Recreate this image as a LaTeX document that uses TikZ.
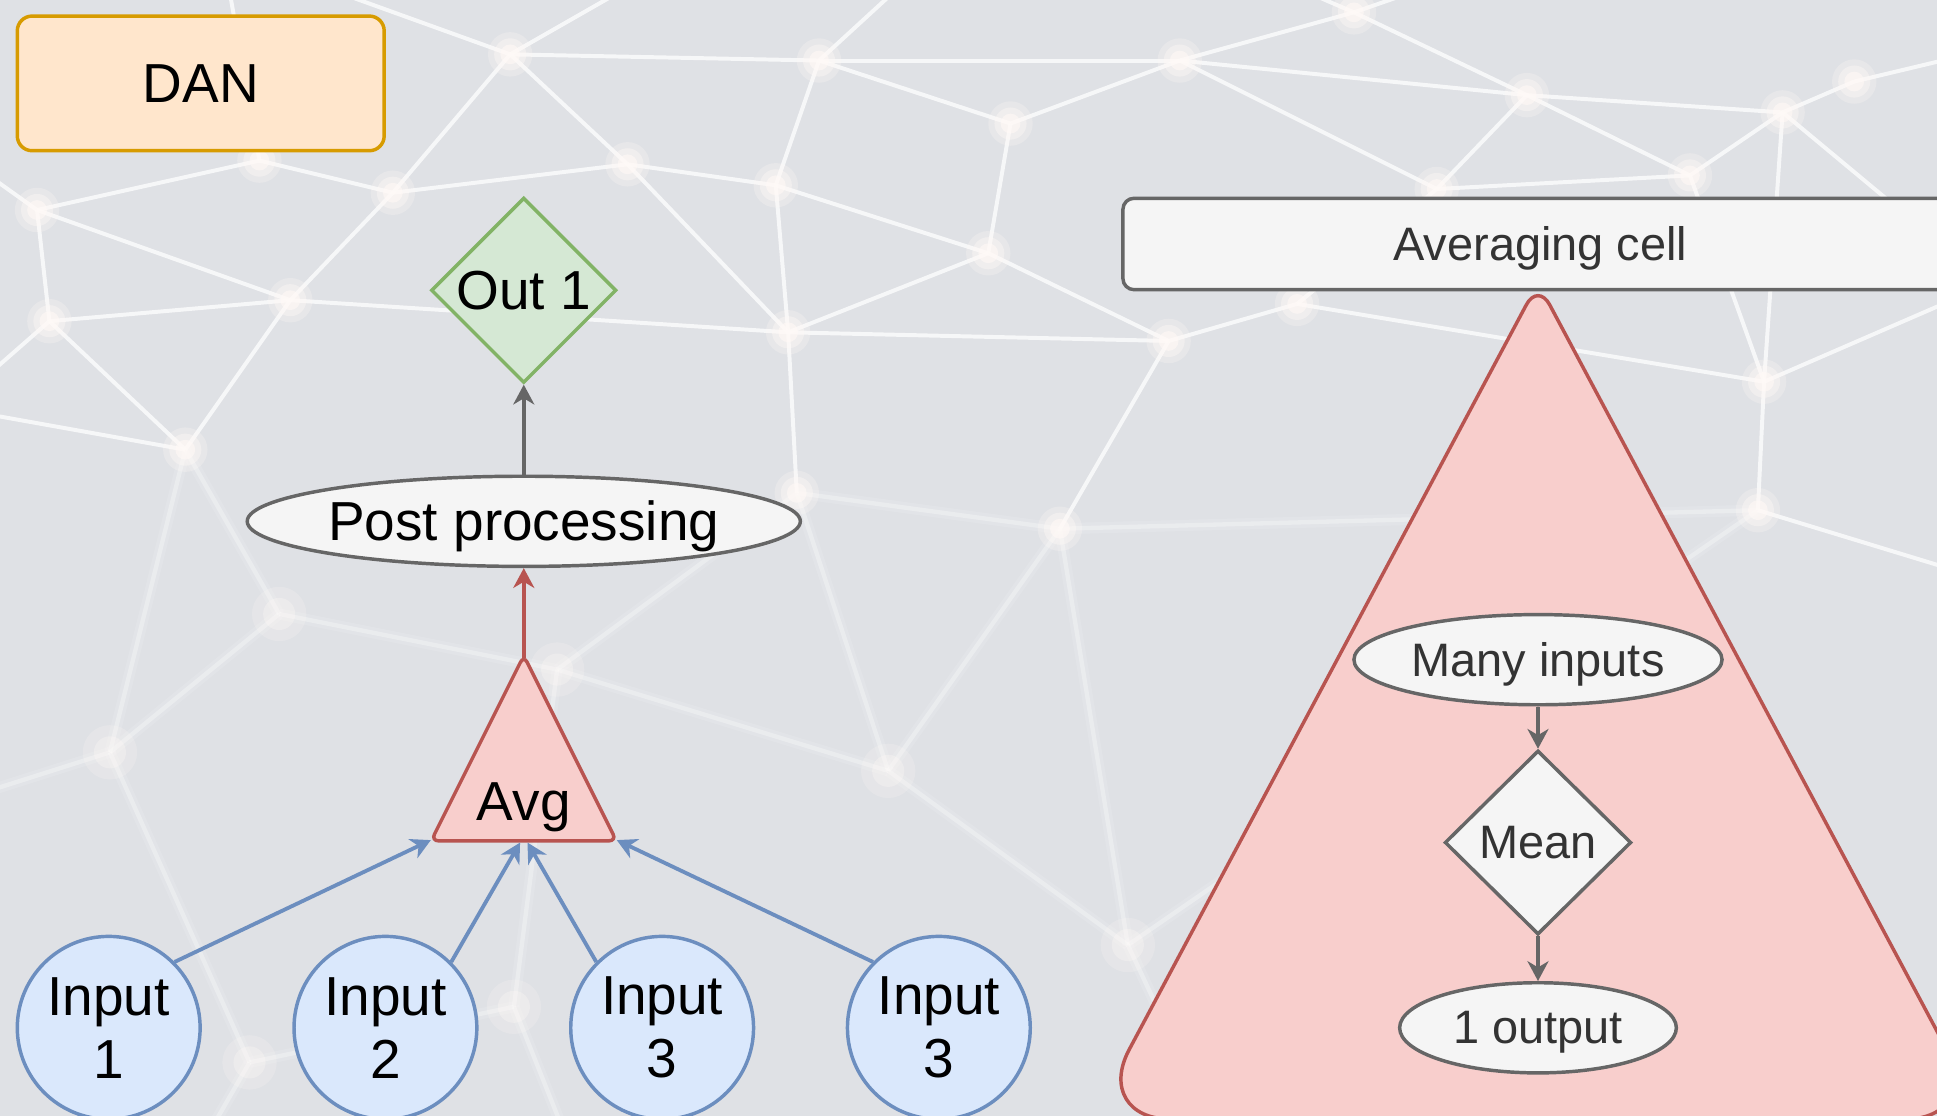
\documentclass[tikz,border=0pt]{standalone}
\usepackage{fontspec}
\setmainfont{Liberation Sans}
\usetikzlibrary{shapes.geometric,arrows.meta,calc}

\definecolor{bgc}{HTML}{DFE1E5}
\definecolor{glowc}{HTML}{FFF9F6}
\definecolor{danfill}{HTML}{FFE6CC}
\definecolor{danline}{HTML}{D79B00}
\definecolor{outfill}{HTML}{D5E8D4}
\definecolor{outline}{HTML}{82B366}
\definecolor{grayfill}{HTML}{F5F5F5}
\definecolor{grayline}{HTML}{666666}
\definecolor{redfill}{HTML}{F8CECC}
\definecolor{redline}{HTML}{B85450}
\definecolor{bluefill}{HTML}{DAE8FC}
\definecolor{blueline}{HTML}{6C8EBF}
\definecolor{txtgray}{HTML}{333333}

\tikzset{
  net/.style={draw=white, line width=3.2pt, opacity=0.75},
  nethalo/.style={draw=white, line width=9pt, opacity=0.12},
  netfaint/.style={draw=white, line width=3.5pt, opacity=0.3},
  big/.style={font=\fontsize{44.5}{51}\selectfont, text=black},
  small/.style={font=\fontsize{38}{44}\selectfont, text=txtgray},
  lowtext/.style={text depth=0.1em},
  shapeline/.style={line width=2.8pt},
  danbox/.style={big, shapeline, rectangle, rounded corners=12pt, draw=danline, fill=danfill,
    minimum width=297pt, minimum height=109pt},
  outdiam/.style={big, shapeline, diamond, draw=outline, fill=outfill, inner sep=0pt,
    minimum width=150pt, minimum height=150pt},
  postell/.style={big, lowtext, shapeline, ellipse, draw=grayline, fill=grayfill, inner sep=0pt,
    minimum width=447pt, minimum height=73pt},
  avgtri/.style={shapeline, isosceles triangle, isosceles triangle stretches, shape border rotate=90,
    minimum width=150pt, minimum height=150pt, inner sep=0pt, draw=redline, fill=redfill,
    rounded corners=6pt},
  inp/.style={big, shapeline, circle, draw=blueline, fill=bluefill, inner sep=0pt,
    minimum size=148pt, align=center},
  cellbox/.style={small, lowtext, shapeline, rectangle, rounded corners=9pt, draw=grayline,
    fill=grayfill, minimum width=676pt, minimum height=74pt},
  bigtri/.style={shapeline, draw=redline, fill=redfill},
  grayell/.style={small, lowtext, shapeline, ellipse, draw=grayline, fill=grayfill, inner sep=0pt,
    minimum height=73pt},
  graydiam/.style={small, shapeline, diamond, draw=grayline, fill=grayfill, inner sep=0pt,
    minimum width=151pt, minimum height=149pt},
  tipshape/.style={-{Stealth[length=16pt,width=17pt,inset=5pt]}},
  garrow/.style={tipshape, draw=grayline, line width=3.1pt},
  rarrow/.style={tipshape, draw=redline, line width=3.1pt},
  barrow/.style={tipshape, draw=blueline, line width=3.1pt},
}

\begin{document}
\begin{tikzpicture}[x=1pt,y=-1pt]
\useasboundingbox (0,0) rectangle (1568,903);
\clip (0,0) rectangle (1568,903);
\fill[bgc] (0,0) rectangle (1568,903);

% ---- network backdrop: junction points ----
\foreach \n/\x/\y in {
  p1/413/44, p2/663/49, p3/508/133, p4/628/150, p5/318/156, p6/210/130,
  p7/30/170, p8/40/260, p9/235/243, p10/638/269, p11/150/364, p12/645/399,
  p13/1096/10, p14/955/49, p15/818/100, p16/1236/77, p17/1443/91, p18/1501/66,
  p19/1368/142, p20/1163/153, p21/800/205, p22/1050/246, p23/946/276,
  p24/1428/309, p25/858/428, p26/1423/413, p27/226/497, p28/89/609,
  p29/451/542, p30/719/624, p31/913/765, p32/416/815, p33/202/860,
  o1/560/-40, o2/180/-40, o3/-40/120, o4/-40/330, o5/760/-40, o6/1240/-40,
  o7/1610/40, o8/1610/230, o9/1610/470, o10/-40/650, o11/980/-40,
  o12/1000/950, o13/150/950, o14/470/950}
  \coordinate (\n) at (\x,\y);

% ---- network backdrop: links ----
\foreach \u/\v in {
  p1/p2, p1/p3, p1/p5, p1/o2, p1/o1, p2/p4, p2/p15, p2/p14, p2/o5,
  p3/p4, p3/p5, p3/p10, p4/p10, p4/p21, p5/p6, p5/p9, p6/p7, p6/o2,
  p7/p8, p7/o3, p7/p9, p8/p9, p8/p11, p8/o4, p9/p10, p9/p11, p11/o4,
  p10/p21, p10/p23, p14/p15, p14/p13, p14/p16, p14/p20, p16/p13,
  p16/p20, p16/p17, p16/p19, p17/p18, p17/p19, p17/p24, p18/o7, p17/o8,
  p13/o6, p13/o11, p19/p24, p19/p20, p20/p22, p22/p23, p21/p23, p15/p21,
  p22/p24, p24/p26, p24/o8, p26/o9, p23/p25, p10/p12}
  \draw[net] (\u) -- (\v);
\foreach \u/\v in {
  p11/p27, p25/p26, p25/p30, p25/p31, p12/p25, p12/p30, p29/p30, p12/p29,
  p27/p29, p27/p28, p11/p28, p28/p33, p29/p32, p30/p31, p31/p26, p32/p33,
  p28/o10, p31/o12, p33/o13, p32/o14}
  {\draw[nethalo] (\u) -- (\v); \draw[netfaint] (\u) -- (\v);}

% ---- network backdrop: soft glowing dots ----
\foreach \n in {p1,p2,p3,p4,p5,p6,p7,p8,p9,p10,p11,p12,p13,p14,p15,p16,p17,
                p18,p19,p20,p21,p22,p23,p24,p25,p26}{
  \fill[glowc, opacity=0.25] (\n) circle (18pt);
  \fill[glowc, opacity=0.4] (\n) circle (13pt);
  \fill[glowc, opacity=0.6] (\n) circle (8pt);
}
\foreach \n in {p27,p28,p29,p30,p31,p32,p33}{
  \fill[glowc, opacity=0.2] (\n) circle (22pt);
  \fill[glowc, opacity=0.3] (\n) circle (13pt);
}

% ---- DAN network ----
\node[danbox] (dan) at (162.5,67.5) {DAN};
\node[outdiam] (out) at (424,235) {Out 1};
\node[postell] (post) at (424,422) {Post processing};
\node[avgtri, anchor=apex] (avg) at (424,527) {};
\node[big, lowtext] (avglbl) at (424,649) {Avg};
\node[inp] (in1) at (88,832) {Input\\1};
\node[inp] (in2) at (312,832) {Input\\2};
\node[inp] (in3) at (536,832) {Input\\3};
\node[inp] (in4) at (760,832) {Input\\3};

\draw[garrow] (post.north) -- (out.south);
\draw[rarrow] ($(avg.apex)+(0,6)$) -- (post.south);
\draw[barrow] (in1.45) -- ($(avg.left corner)+(2,-2)$);
\draw[barrow] (in2.45) -- ($(avg.lower side)+(-3,0)$);
\draw[barrow] (in3.135) -- ($(avg.lower side)+(3,0)$);
\draw[barrow] (in4.135) -- ($(avg.right corner)+(-2,-2)$);

% ---- averaging cell detail: large corners at the base, a softer one at the top ----
\coordinate (cellapex) at (1245,229);
\coordinate (cellbl) at (884,906);
\coordinate (cellbr) at (1606,906);
\coordinate (cellbase) at (1245,906);
\draw[bigtri, rounded corners=64pt] (cellbase) -- (cellbl)
  [rounded corners=20pt] -- (cellapex) [rounded corners=64pt] -- (cellbr) -- cycle;
\node[cellbox] (cell) at (1247,197.5) {Averaging cell};
\node[grayell, minimum width=298pt] (many) at (1245,534) {Many inputs};
\node[graydiam] (mean) at (1245,682) {Mean};
\node[grayell, minimum width=224pt] (one) at (1245,832) {1 output};
\draw[garrow] (many.south) -- (mean.north);
\draw[garrow] (mean.south) -- (one.north);
\end{tikzpicture}
\end{document}
